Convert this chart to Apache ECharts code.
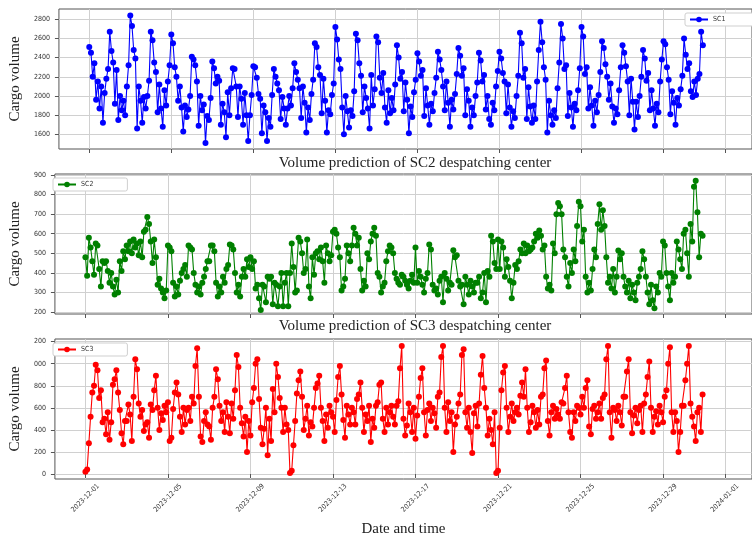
<!DOCTYPE html>
<html><head><meta charset="utf-8">
<script src="https://cdn.jsdelivr.net/npm/echarts@6/dist/echarts.min.js"></script>
<style>html,body{margin:0;padding:0;background:#fff}#c{width:752px;height:539px}</style>
</head><body><div id="c"></div>
<script>
// ---- data ----
const startTime = '2023-12-01T00:00:00Z';
const stepHours = 2;
const dateTicks = ['2023-12-01','2023-12-05','2023-12-09','2023-12-13','2023-12-17','2023-12-21','2023-12-25','2023-12-29','2024-01-01'];
const sc1Ticks = [1600,1800,2000,2200,2400,2600,2800];
const sc2Ticks = [200,300,400,500,600,700,800,900];
const sc3Ticks = [0,200,400,600,800,1000,1200];
const seriesNames = ['SC1','SC2','SC3'];
const panelTitles = ['Volume prediction of SC2 despatching center','Volume prediction of SC3 despatching center'];

// one row per day, values every 2 hours
const sc1 = [
2510,2450,2200,2340,1960,2150,1870,2100,1720,2030,2180,2280,
2670,2470,2350,1920,2270,1750,2000,1850,1950,1800,2100,2320,
2840,2730,2480,2390,1660,2100,1950,1720,1990,1870,2000,2160,
2670,2580,2350,2250,1830,2120,1870,1680,2060,1900,2150,2320,
2640,2550,2300,2200,1950,2100,1880,1630,1900,1780,1860,2000,
2410,2380,2320,2150,1690,2000,1850,1910,1510,1790,1750,1980,
2360,2290,2130,2200,2160,1700,1920,1830,1570,2040,1800,2080,
2290,2280,2100,1780,2100,1970,1700,2030,1800,1530,1800,2010,
2310,2300,2190,2020,1970,1610,1900,1830,1530,1770,1680,2010,
2280,2200,2130,2060,1760,1990,1870,1700,1870,2000,1900,2080,
2340,2250,2170,2080,1770,2100,1930,1620,1880,1750,2020,2170,
2550,2510,2300,2220,1820,2180,1950,1620,1850,1810,2010,2130,
2720,2590,2380,2280,1880,1600,2000,1840,1670,1850,1790,2050,
2650,2580,2340,2210,1830,2100,1980,1870,1660,2220,1900,2070,
2620,2560,2190,2030,2240,1880,1720,2060,1820,1980,1850,2120,
2530,2400,2180,2250,1840,2140,1960,1610,1890,1780,2040,2170,
2445,2360,2210,2270,1790,2080,1900,1700,1920,1840,2030,2190,
2460,2380,2270,2100,1850,2150,1930,1680,1960,1860,2020,2230,
2500,2420,2210,2290,1800,2070,1950,1680,1880,1800,2000,2140,
2450,2370,2150,2220,1860,2000,1760,1700,1930,1850,2100,2260,
2460,2390,2240,2150,1820,2120,1880,1680,1840,1770,2000,2210,
2660,2550,2190,2280,1760,2090,1890,1720,1900,1760,2150,2480,
2775,2560,2300,2170,1620,1950,1800,1700,1850,1770,2080,2350,
2750,2600,2280,2320,1790,2030,1880,1680,1920,1850,2060,2290,
2720,2620,2230,2300,1870,2090,1900,1690,1950,1830,2010,2250,
2570,2500,2330,2200,1960,2130,1890,1720,1870,1810,2060,2300,
2530,2450,2310,2150,1800,2180,1940,1650,1940,1780,2000,2200,
2480,2390,2160,2240,1850,2060,1870,1690,1920,1830,2150,2380,
2570,2540,2300,2170,1810,2050,1930,1700,1980,1900,2070,2210,
2600,2430,2280,2340,2050,1990,2150,2010,2180,2230,2670,2530
];
const sc2 = [
480,385,580,530,460,390,550,540,420,330,460,450,
460,410,350,400,330,290,365,300,460,410,510,470,
540,510,560,500,570,530,550,490,560,480,610,620,
685,650,560,450,570,480,340,370,320,300,270,310,
540,530,510,350,280,330,290,360,400,420,440,380,
540,530,520,400,340,300,330,290,350,380,420,460,
460,540,540,510,350,280,330,300,380,350,420,440,
545,540,520,400,300,340,280,380,420,380,470,430,
480,420,460,320,340,270,210,340,330,250,380,370,
380,240,350,340,230,330,400,230,350,400,230,400,
550,430,300,310,580,560,500,400,420,570,330,270,
480,390,500,510,470,530,460,350,540,500,460,490,
610,620,600,530,480,310,330,370,540,500,460,540,
630,600,540,580,420,310,360,330,500,470,560,600,
630,590,400,380,300,330,350,460,510,540,530,500,
400,370,350,340,390,380,360,340,320,360,390,350,
530,350,410,380,340,300,370,400,545,520,340,310,
320,290,360,380,250,400,370,310,350,340,515,480,
490,360,330,340,240,380,340,290,360,330,300,350,
350,380,270,300,400,250,410,380,590,560,450,420,
570,420,560,530,380,470,430,360,270,350,440,420,
460,520,500,550,500,540,510,520,530,560,600,580,
617,590,520,540,380,320,340,310,550,500,700,757,
740,700,520,480,380,330,450,400,520,460,640,763,
740,560,620,380,300,350,310,420,520,480,650,750,
620,720,640,480,350,380,320,420,300,380,514,470,
500,380,330,300,360,270,340,300,260,350,380,420,
510,470,380,300,240,340,260,220,330,300,400,380,
560,540,400,330,260,400,350,380,560,520,470,420,
600,620,500,380,650,560,840,871,710,480,600,590
];
const sc3 = [
20,40,280,520,740,800,990,940,690,760,470,500,
360,560,310,470,810,860,940,740,580,370,270,480,
480,630,540,300,700,1040,950,640,520,580,390,450,
470,330,630,580,760,890,600,400,550,490,620,560,
650,300,330,590,740,830,720,520,380,600,450,580,
600,480,700,640,980,1140,700,340,290,480,560,450,
430,310,600,700,950,860,620,480,560,380,650,520,
370,640,500,760,1080,970,600,460,340,520,200,480,
350,650,780,1000,1040,680,420,270,410,600,170,500,
300,770,560,1000,880,690,600,380,600,450,400,10,
30,260,480,730,850,930,700,400,500,620,350,470,
430,600,780,820,890,600,480,300,540,420,620,560,
520,380,670,880,980,720,490,330,620,540,450,600,
560,450,680,720,830,600,380,540,480,620,290,500,
420,620,650,810,830,500,380,600,450,560,620,520,
450,620,660,960,1160,500,350,440,640,560,380,600,
320,530,700,870,960,560,350,580,640,480,600,550,
420,700,740,1060,1160,600,380,650,480,560,200,450,
520,640,720,1080,1130,560,420,600,380,190,550,620,
430,640,900,1070,780,600,350,500,400,270,560,10,
30,420,760,920,980,600,380,520,640,480,560,600,
540,710,830,700,950,600,380,470,620,560,420,580,
450,700,720,960,1030,480,350,560,620,500,590,540,
500,650,640,780,890,560,380,330,560,480,620,600,
540,700,600,780,850,430,360,590,620,500,560,640,
500,690,720,1040,1160,560,330,600,580,480,620,560,
440,700,700,930,1040,560,370,530,600,460,580,620,
380,640,720,880,1020,600,380,520,570,450,620,560,
470,700,760,1000,1150,560,380,560,480,200,380,620,
620,850,1000,1160,640,520,430,300,560,600,380,720
];

// ---- build ----
const t0 = Date.parse(startTime);
const times = sc1.map((_, i) => t0 + i * stepHours * 3600 * 1000);
const tickVals = dateTicks.map(s => Date.parse(s + 'T00:00:00Z'));
const xMin = Date.parse('2023-11-29T12:30:00Z');
const xMax = Date.parse('2024-01-02T07:30:00Z');
const pad = n => (n < 10 ? '0' : '') + n;
const fmtDate = v => { const d = new Date(v); return d.getUTCFullYear() + '-' + pad(d.getUTCMonth() + 1) + '-' + pad(d.getUTCDate()); };

const colors = ['#0000ff', '#008000', '#ff0000'];
const yRanges = [[1447, 2907], [190, 905], [-45, 1224]];
const yTicks = [sc1Ticks, sc2Ticks, sc3Ticks];
const gridTops = [9, 174, 339];
const smallFont = "'Liberation Sans Narrow','DejaVu Sans Condensed','DejaVu Sans',sans-serif";
const serif = "'Liberation Serif','DejaVu Serif',serif";
const splitStyle = { color: '#d0d0d0', width: 1 };

const grids = gridTops.map(t => ({ left: 50, right: -28, top: t, height: 140, show: true, borderColor: '#555', borderWidth: 1, backgroundColor: 'transparent' }));

const xAxes = [0, 1, 2].map(k => ({
  type: 'value', gridIndex: k, min: xMin, max: xMax, scale: true,
  axisLine: { show: false },
  axisTick: { show: true, customValues: tickVals, length: 4, lineStyle: { color: '#555' } },
  axisLabel: { show: k === 2, customValues: tickVals, formatter: v => fmtDate(v), rotate: 45, align: 'center', verticalAlign: 'middle', margin: 19, fontSize: 7, color: '#333', fontFamily: smallFont },
  splitLine: { show: true, lineStyle: splitStyle },
  name: k === 2 ? 'Date and time' : '', nameLocation: 'middle', nameGap: 43,
  nameTextStyle: { fontFamily: serif, fontSize: 15, color: '#222' }
}));

const yAxes = [0, 1, 2].map(k => ({
  type: 'value', gridIndex: k, min: yRanges[k][0], max: yRanges[k][1],
  axisLine: { show: false },
  axisTick: { show: true, customValues: yTicks[k], length: 4, lineStyle: { color: '#555' } },
  axisLabel: { customValues: yTicks[k], margin: 9, fontSize: 7, color: '#333', fontFamily: smallFont,
    formatter: v => (k === 2 && v >= 1000) ? String(v).slice(1) : String(v) },
  splitLine: { show: true, lineStyle: splitStyle },
  name: 'Cargo volume', nameLocation: 'middle', nameGap: 25,
  nameTextStyle: { fontFamily: serif, fontSize: 15, color: '#222' }
}));

const dataSets = [sc1, sc2, sc3];
const series = [0, 1, 2].map(k => ({
  type: 'line', name: seriesNames[k], xAxisIndex: k, yAxisIndex: k,
  data: times.map((t, i) => [t, dataSets[k][i]]),
  symbol: 'circle', symbolSize: 6, showSymbol: true, showAllSymbol: true,
  lineStyle: { width: 1.1, color: colors[k] }, itemStyle: { color: colors[k] },
  emphasis: { disabled: true }, animation: false
}));

const legendBase = { orient: 'horizontal', itemWidth: 18, itemHeight: 7, itemGap: 5, padding: [3, 34, 3, 4],
  borderColor: '#cfcfcf', borderWidth: 1, borderRadius: 2, backgroundColor: '#fff',
  textStyle: { fontSize: 7, color: '#333', fontFamily: smallFont }, selectedMode: false };
const legends = [
  Object.assign({}, legendBase, { data: ['SC1'], left: 685, top: 13 }),
  Object.assign({}, legendBase, { data: ['SC2'], left: 53, top: 178 }),
  Object.assign({}, legendBase, { data: ['SC3'], left: 53, top: 343 })
];

const titleStyle = { fontFamily: serif, fontSize: 15, fontWeight: 'normal', color: '#222' };
const titles = [
  { text: panelTitles[0], left: 415, top: 156, textAlign: 'center', padding: 0, textStyle: titleStyle },
  { text: panelTitles[1], left: 415, top: 319, textAlign: 'center', padding: 0, textStyle: titleStyle }
];

const chart = echarts.init(document.getElementById('c'), null, { renderer: 'canvas' });
chart.setOption({
  backgroundColor: '#fff', animation: false,
  title: titles, legend: legends, grid: grids, xAxis: xAxes, yAxis: yAxes, series: series
});
</script></body></html>
